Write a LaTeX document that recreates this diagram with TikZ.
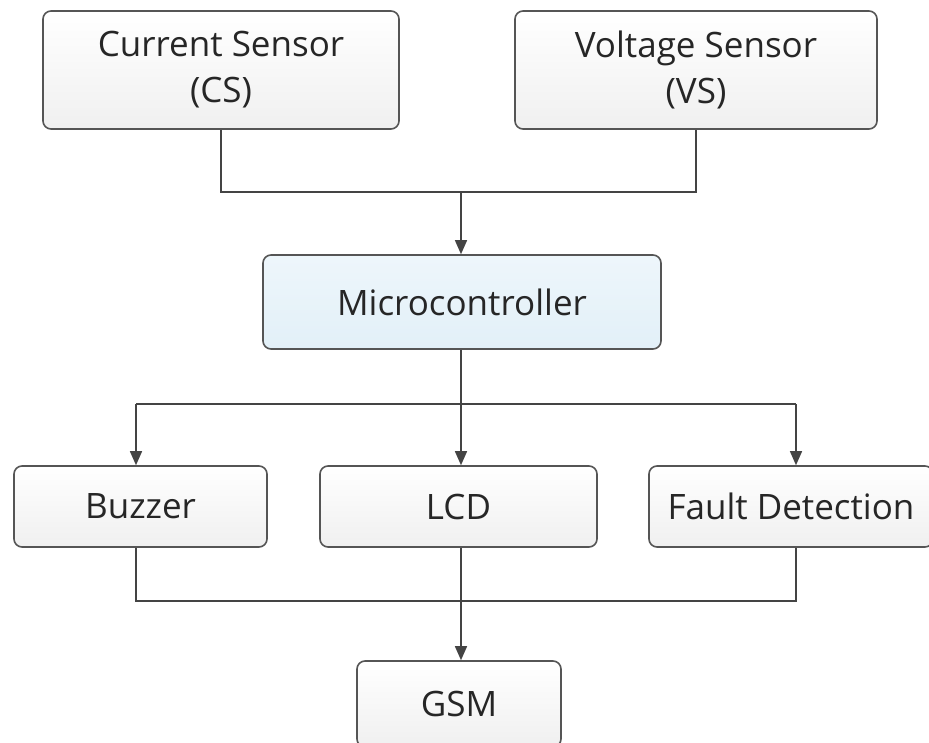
\documentclass[tikz,border=0pt]{standalone}
\usepackage{fontspec}
\setmainfont{Open Sans}
\usetikzlibrary{arrows.meta}
\definecolor{edge}{HTML}{555555}
\definecolor{line}{HTML}{444444}
\definecolor{mcblue}{HTML}{E2F0F8}
\begin{document}
\begin{tikzpicture}[x=1pt,y=-1pt,
  blk/.style={draw=edge,line width=1.6pt,rounded corners=8pt,top color=white,bottom color=gray!12,
    font=\fontsize{35}{46}\selectfont,text=black!85,align=center,inner sep=0pt},
  conn/.style={draw=line,line width=1.4pt},
  arr/.style={conn,-{Triangle[length=14pt,width=12pt]}}]
\useasboundingbox (0,0) rectangle (929,742);
\node[blk,minimum width=356pt,minimum height=118pt] (cs) at (221,70) {Current Sensor\\(CS)};
\node[blk,minimum width=362pt,minimum height=118pt] (vs) at (696,70) {Voltage Sensor\\(VS)};
\node[blk,fill=mcblue,top color=mcblue!60,bottom color=mcblue,minimum width=398pt,minimum height=94pt] (mc) at (462,302) {Microcontroller};
\node[blk,minimum width=253pt,minimum height=81pt] (bz) at (140.5,506.5) {Buzzer};
\node[blk,minimum width=277pt,minimum height=81pt] (lcd) at (458.5,506.5) {LCD};
\node[blk,minimum width=284pt,minimum height=81pt] (fd) at (791,506.5) {Fault Detection};
\node[blk,minimum width=204pt,minimum height=86pt] (gsm) at (459,704) {GSM};
\coordinate (j1) at (461,192);
\coordinate (j2) at (461,404);
\coordinate (j3) at (461,601);
\draw[conn] (cs.south) |- (j1) -| (vs.south);
\draw[arr] (j1) -- (j1 |- mc.north);
\draw[conn] (mc.south -| j2) -- (j2);
\draw[conn] (136,404) coordinate (l2) -- (796,404) coordinate (r2);
\draw[arr] (l2) -- (l2 |- bz.north);
\draw[arr] (j2) -- (j2 |- lcd.north);
\draw[arr] (r2) -- (r2 |- fd.north);
\draw[conn] (bz.south -| l2) |- (j3) -| (fd.south -| r2);
\draw[arr] (lcd.south -| j3) -- (j3 |- gsm.north);
\end{tikzpicture}
\end{document}
